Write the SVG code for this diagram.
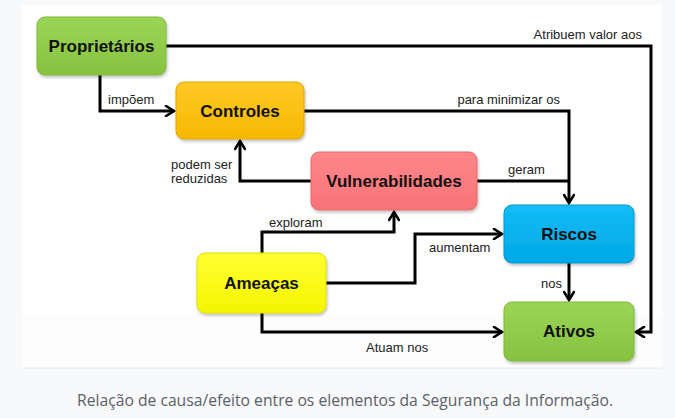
<svg xmlns="http://www.w3.org/2000/svg" width="675" height="418" viewBox="0 0 675 418">
<defs>
<style>
.node text{font-family:"Liberation Sans",Arial,sans-serif;font-weight:bold;font-size:17px;fill:#111;text-anchor:middle;dominant-baseline:central}
.box{stroke-width:1;filter:url(#sh)}
.lbl{font-family:"Liberation Sans",Arial,sans-serif;font-size:13px;fill:#222}
.con path{fill:none;stroke:#000;stroke-width:3;stroke-linejoin:miter}
.ar{marker-end:url(#ah)}
</style>
<marker id="ah" viewBox="0 0 12 12" refX="10" refY="6" markerWidth="12" markerHeight="12" markerUnits="userSpaceOnUse" orient="auto">
<path d="M2,1 L10,6 L2,11" fill="none" stroke="#000" stroke-width="2.6" stroke-linecap="round" stroke-linejoin="miter"/>
</marker>
<filter id="sh" x="-10%" y="-10%" width="125%" height="130%">
<feDropShadow dx="1" dy="2" stdDeviation="1.5" flood-color="#000" flood-opacity="0.25"/>
</filter>
<linearGradient id="gG" x1="0" y1="0" x2="0" y2="1"><stop offset="0" stop-color="#9bd556"/><stop offset="1" stop-color="#86c240"/></linearGradient>
<linearGradient id="gO" x1="0" y1="0" x2="0" y2="1"><stop offset="0" stop-color="#ffc926"/><stop offset="1" stop-color="#f6b800"/></linearGradient>
<linearGradient id="gR" x1="0" y1="0" x2="0" y2="1"><stop offset="0" stop-color="#ff868a"/><stop offset="1" stop-color="#f77478"/></linearGradient>
<linearGradient id="gY" x1="0" y1="0" x2="0" y2="1"><stop offset="0" stop-color="#ffff33"/><stop offset="1" stop-color="#f5f500"/></linearGradient>
<linearGradient id="gB" x1="0" y1="0" x2="0" y2="1"><stop offset="0" stop-color="#14bcf5"/><stop offset="1" stop-color="#00a8e6"/></linearGradient>
</defs>
<rect x="0" y="0" width="675" height="418" fill="#f8f9fb"/>
<rect x="22" y="5" width="640" height="363" fill="#ffffff"/>
<rect x="22" y="315" width="640" height="53" fill="#fdfdfd"/>
<line x1="22" y1="368" x2="662" y2="368" stroke="#e6ebf0" stroke-width="1"/>

<g id="connectors" class="con">
<path class="ar" d="M166,46 H651 V332 H636"/>
<path class="ar" d="M100,75 V111 H174"/>
<path class="ar" d="M304,111 H569 V203"/>
<path d="M477,181 H569"/>
<path class="ar" d="M311,181 H240 V141"/>
<path class="ar" d="M262,253 V232 H394 V212"/>
<path class="ar" d="M326,283 H415 V234 H502"/>
<path class="ar" d="M262,313 V332 H502"/>
<path class="ar" d="M569,263 V300"/>
<text class="lbl" x="642" y="39" text-anchor="end" stroke="none">Atribuem valor aos</text>
<text class="lbl" x="108" y="104" stroke="none">impõem</text>
<text class="lbl" x="560" y="104" text-anchor="end" stroke="none">para minimizar os</text>
<text class="lbl" x="508" y="174" stroke="none">geram</text>
<text class="lbl" x="171" y="169" stroke="none">podem ser</text>
<text class="lbl" x="171" y="183" stroke="none">reduzidas</text>
<text class="lbl" x="269" y="227" stroke="none">exploram</text>
<text class="lbl" x="429" y="252" stroke="none">aumentam</text>
<text class="lbl" x="366" y="352" stroke="none">Atuam nos</text>
<text class="lbl" x="541" y="288" stroke="none">nos</text>
</g>

<g id="proprietarios" class="node">
<rect class="box" x="37" y="17" width="129" height="58" rx="8" fill="url(#gG)" stroke="#7fb83a"/>
<text x="101.5" y="46">Proprietários</text>
</g>
<g id="controles" class="node">
<rect class="box" x="176" y="82" width="128" height="57" rx="8" fill="url(#gO)" stroke="#e0a800"/>
<text x="240" y="111">Controles</text>
</g>
<g id="vulnerabilidades" class="node">
<rect class="box" x="311" y="152" width="166" height="58" rx="8" fill="url(#gR)" stroke="#e86a6e"/>
<text x="394" y="181">Vulnerabilidades</text>
</g>
<g id="ameacas" class="node">
<rect class="box" x="197" y="253" width="129" height="60" rx="8" fill="url(#gY)" stroke="#e0e000"/>
<text x="261.5" y="283">Ameaças</text>
</g>
<g id="riscos" class="node">
<rect class="box" x="504" y="205" width="130" height="58" rx="8" fill="url(#gB)" stroke="#0098d0"/>
<text x="569" y="234">Riscos</text>
</g>
<g id="ativos" class="node">
<rect class="box" x="504" y="302" width="130" height="59" rx="8" fill="url(#gG)" stroke="#7fb83a"/>
<text x="569" y="331.5">Ativos</text>
</g>

<text x="345" y="406" font-family="'Open Sans','Noto Sans',sans-serif" font-size="15.5" fill="#5b6068" text-anchor="middle" textLength="536" lengthAdjust="spacingAndGlyphs">Relação de causa/efeito entre os elementos da Segurança da Informação.</text>
</svg>
